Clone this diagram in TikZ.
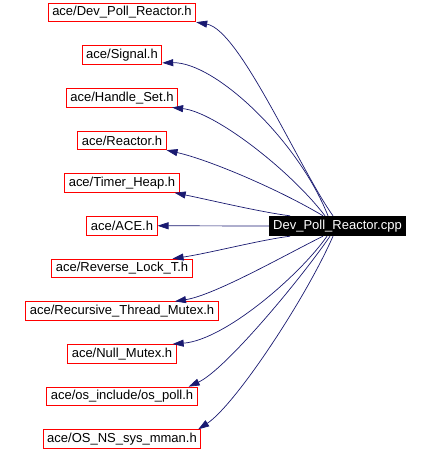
\documentclass[tikz,border=0pt]{standalone}
\usepackage{fontspec}
\setmainfont{Liberation Sans}
\usetikzlibrary{arrows.meta}
\definecolor{edgeblue}{RGB}{25,25,112}
\tikzset{
	hdr/.style={draw=red, line width=0.9pt, font=\fontsize{13}{15}\selectfont, inner xsep=4pt, inner ysep=0pt, minimum height=18.5pt},
	src/.style={fill=black, text=white, font=\fontsize{13}{15}\selectfont, inner xsep=4pt, inner ysep=0pt, minimum height=20pt},
	dep/.style={draw=edgeblue, line width=0.7pt, -{Triangle[length=11pt,width=7pt]}}
}
\begin{document}
\begin{tikzpicture}[x=1pt,y=-1pt]
			\useasboundingbox (0,0) rectangle (430,451);
			\node[src] (main) at (337.5,226) {Dev\_Poll\_Reactor.cpp};
			\foreach \i/\name in {1/{ace/Dev\_Poll\_Reactor.h}, 2/{ace/Signal.h}, 3/{ace/Handle\_Set.h}, 4/{ace/Reactor.h}, 5/{ace/Timer\_Heap.h}, 6/{ace/ACE.h}, 7/{ace/Reverse\_Lock\_T.h}, 8/{ace/Recursive\_Thread\_Mutex.h}, 9/{ace/Null\_Mutex.h}, 10/{ace/os\_include/os\_poll.h}, 11/{ace/OS\_NS\_sys\_mman.h}}{
				\node[hdr] (h\i) at (122,{12.5+42.65*(\i-1)}) {\name};
			}
			% edges above the source
			\draw[dep] ([xshift=-4.5pt]main.north) .. controls (300,170) and (240,30) .. (h1.south east);
			\draw[dep] ([xshift=-9.5pt]main.north) .. controls (298,140) and (215,62) .. ([yshift=2pt]h2.south east);
			\draw[dep] ([xshift=-12.5pt]main.north) .. controls (290,170) and (215,112) .. ([xshift=-6pt]h3.south east);
			\draw[dep] ([xshift=-14.5pt]main.north) .. controls (280,190) and (210,160) .. (h4.south east);
			\draw[dep] ([xshift=-47.5pt]main.north) .. controls (260,212) and (210,200) .. ([xshift=-5pt]h5.south east);
			\draw[dep] (main.west) -- (h6.east);
			% edges below the source
			\draw[dep] ([xshift=-47.5pt]main.south) .. controls (260,240) and (210,253) .. ([xshift=-20pt]h7.north east);
			\draw[dep] ([xshift=-14.5pt]main.south) .. controls (285,255) and (215,295) .. ([xshift=53pt]h8.north);
			\draw[dep] ([xshift=-10.5pt]main.south) .. controls (300,275) and (225,340) .. ([xshift=-4pt]h9.north east);
			\draw[dep] ([xshift=-7.5pt]main.south) .. controls (300,280) and (225,370) .. ([xshift=-9pt]h10.north east);
			\draw[dep] ([xshift=-4.5pt]main.south) .. controls (305,300) and (235,405) .. ([xshift=-3pt]h11.north east);
\end{tikzpicture}
\end{document}
